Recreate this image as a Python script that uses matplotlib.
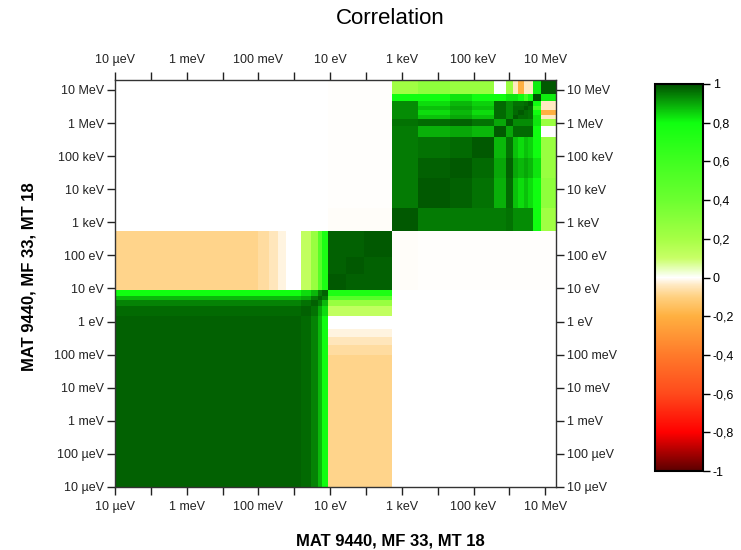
import numpy as np
import matplotlib
matplotlib.use("Agg")
import matplotlib.pyplot as plt
from matplotlib.colors import LinearSegmentedColormap
from matplotlib.ticker import NullLocator

plt.rcParams['font.family'] = ['Liberation Sans', 'DejaVu Sans']

# energy group boundaries (eV)
low_bounds = [1e-5, 0.1, 0.2, 0.35, 0.6, 1.5, 3.0, 4.5, 6.0, 9.0]
mid_bounds = [28.0, 88.0, 530.0]
high_bounds = [2.8e3, 2.2e4, 9.0e4, 3.7e5, 8.3e5, 1.3e6, 1.78e6, 2.5e6,
               3.3e6, 4.6e6, 7.5e6, 2.0e7]

# correlation blocks
low_low = [
    [0.98, 0.98, 0.98, 0.98, 0.98, 0.97, 0.94, 0.88, 0.80],
    [0.98, 0.98, 0.98, 0.98, 0.98, 0.97, 0.94, 0.88, 0.80],
    [0.98, 0.98, 0.98, 0.98, 0.98, 0.97, 0.94, 0.88, 0.80],
    [0.98, 0.98, 0.98, 0.98, 0.98, 0.97, 0.94, 0.88, 0.80],
    [0.98, 0.98, 0.98, 0.98, 0.98, 0.97, 0.94, 0.88, 0.80],
    [0.97, 0.97, 0.97, 0.97, 0.97, 0.98, 0.96, 0.90, 0.84],
    [0.94, 0.94, 0.94, 0.94, 0.94, 0.96, 0.98, 0.95, 0.88],
    [0.88, 0.88, 0.88, 0.88, 0.88, 0.90, 0.95, 0.98, 0.95],
    [0.80, 0.80, 0.80, 0.80, 0.80, 0.84, 0.88, 0.95, 0.98],
]
low_mid = [
    [-0.09, -0.09, -0.09],
    [-0.07, -0.07, -0.07],
    [-0.045, -0.045, -0.045],
    [-0.02, -0.02, -0.02],
    [0.0, 0.0, 0.0],
    [0.12, 0.12, 0.12],
    [0.25, 0.25, 0.25],
    [0.50, 0.50, 0.50],
    [0.75, 0.75, 0.75],
]
mid_mid = [
    [0.99, 0.98, 0.98],
    [0.98, 0.99, 0.98],
    [0.98, 0.98, 0.99],
]
mid_high = [
    [-0.004] + [-0.002] * 11,
    [-0.004] + [-0.002] * 11,
    [-0.004] + [-0.002] * 11,
]
high_high = [
    [0.99, 0.95, 0.95, 0.95, 0.95, 0.96, 0.93, 0.93, 0.93, 0.93, 0.80, 0.22],
    [0.95, 0.99, 0.98, 0.96, 0.89, 0.97, 0.87, 0.84, 0.87, 0.84, 0.80, 0.28],
    [0.95, 0.98, 0.99, 0.97, 0.90, 0.98, 0.90, 0.88, 0.90, 0.88, 0.83, 0.25],
    [0.95, 0.96, 0.97, 0.99, 0.88, 0.96, 0.87, 0.84, 0.87, 0.85, 0.80, 0.25],
    [0.95, 0.89, 0.90, 0.88, 0.99, 0.90, 0.97, 0.97, 0.97, 0.97, 0.80, 0.00],
    [0.96, 0.97, 0.98, 0.96, 0.90, 0.99, 0.93, 0.93, 0.93, 0.93, 0.83, 0.24],
    [0.93, 0.87, 0.90, 0.87, 0.97, 0.93, 0.99, 0.97, 0.97, 0.96, 0.83, -0.04],
    [0.93, 0.84, 0.88, 0.84, 0.97, 0.93, 0.97, 0.99, 0.97, 0.96, 0.80, -0.20],
    [0.93, 0.87, 0.90, 0.87, 0.97, 0.93, 0.97, 0.97, 0.99, 0.97, 0.60, -0.04],
    [0.93, 0.84, 0.88, 0.85, 0.97, 0.93, 0.96, 0.96, 0.97, 0.99, 0.80, -0.04],
    [0.80, 0.80, 0.83, 0.80, 0.80, 0.83, 0.83, 0.80, 0.60, 0.80, 1.00, 0.82],
    [0.22, 0.28, 0.25, 0.25, 0.00, 0.24, -0.04, -0.20, -0.04, -0.04, 0.82, 0.99],
]

tick_pos = [1e-5, 1e-4, 1e-3, 1e-2, 1e-1, 1e0, 1e1, 1e2, 1e3, 1e4, 1e5, 1e6, 1e7]
tick_labels = ["10 µeV", "100 µeV", "1 meV", "10 meV", "100 meV", "1 eV", "10 eV",
               "100 eV", "1 keV", "10 keV", "100 keV", "1 MeV", "10 MeV"]
cbar_ticks = [-1, -0.8, -0.6, -0.4, -0.2, 0, 0.2, 0.4, 0.6, 0.8, 1]
cbar_labels = ["-1", "-0,8", "-0,6", "-0,4", "-0,2", "0", "0,2", "0,4", "0,6", "0,8", "1"]

# assemble the full matrix
edges = np.array(low_bounds + mid_bounds + high_bounds)
nl, nm, nh = len(low_low), len(mid_mid), len(high_high)
C = np.zeros((nl + nm + nh, nl + nm + nh))
C[:nl, :nl] = low_low
C[nl:nl + nm, nl:nl + nm] = mid_mid
C[nl + nm:, nl + nm:] = high_high
C[:nl, nl:nl + nm] = low_mid
C[nl:nl + nm, :nl] = np.array(low_mid).T
C[nl:nl + nm, nl + nm:] = mid_high
C[nl + nm:, nl:nl + nm] = np.array(mid_high).T

stops = [
    (-1.0, "#5a0000"), (-0.8, "#ff0000"), (-0.6, "#ff4a1c"), (-0.4, "#ff7a2a"),
    (-0.2, "#ffb040"), (-0.1, "#ffd080"), (-0.04, "#ffe8c0"), (0.0, "#ffffff"),
    (0.1, "#c8ff66"), (0.2, "#a6ff45"), (0.4, "#6cff30"), (0.6, "#40ff20"),
    (0.8, "#10ff10"), (1.0, "#005000"),
]
# odd N so that 0 lands exactly on white
cmap = LinearSegmentedColormap.from_list("corr", [((v + 1) / 2, c) for v, c in stops], N=1025)

fig = plt.figure(figsize=(7.41, 5.5), dpi=100)
ax = fig.add_axes([115 / 741, 63 / 550, 441 / 741, 407 / 550])
mesh = ax.pcolormesh(edges, edges, C, cmap=cmap, vmin=-1, vmax=1,
                     shading='flat', edgecolors='none', antialiased=False)
ax.set_xscale('log')
ax.set_yscale('log')
ax.set_xlim(1e-5, 2e7)
ax.set_ylim(1e-5, 2e7)

ax.set_xticks(tick_pos)
ax.set_xticklabels([lab if i % 2 == 0 else "" for i, lab in enumerate(tick_labels)])
ax.set_yticks(tick_pos)
ax.set_yticklabels(tick_labels)
ax.xaxis.set_minor_locator(NullLocator())
ax.yaxis.set_minor_locator(NullLocator())
ax.tick_params(top=True, labeltop=True, right=True, labelright=True, direction='out',
               length=6, width=1, labelsize=9, pad=2, colors='#222222')
ax.tick_params(axis='x', which='major', pad=4)
for s in ax.spines.values():
    s.set_linewidth(1)
    s.set_color('#333333')

cax = fig.add_axes([655 / 741, 79 / 550, 48 / 741, 387 / 550])
cb = fig.colorbar(mesh, cax=cax, ticks=cbar_ticks)
cb.ax.set_yticklabels(cbar_labels)
cb.ax.tick_params(length=5, width=1, labelsize=9, pad=2)
cb.outline.set_linewidth(1.5)

fig.text(390 / 741, 1 - 19 / 550, "Correlation", ha='center', va='center', fontsize=16)
fig.text(390 / 741, 1 - 541 / 550, "MAT 9440, MF 33, MT 18", ha='center', va='center',
         fontsize=12, fontweight='bold')
fig.text(29 / 741, 1 - 277 / 550, "MAT 9440, MF 33, MT 18", ha='center', va='center',
         fontsize=12, fontweight='bold', rotation=90)

fig.savefig("out.png", dpi=100)
